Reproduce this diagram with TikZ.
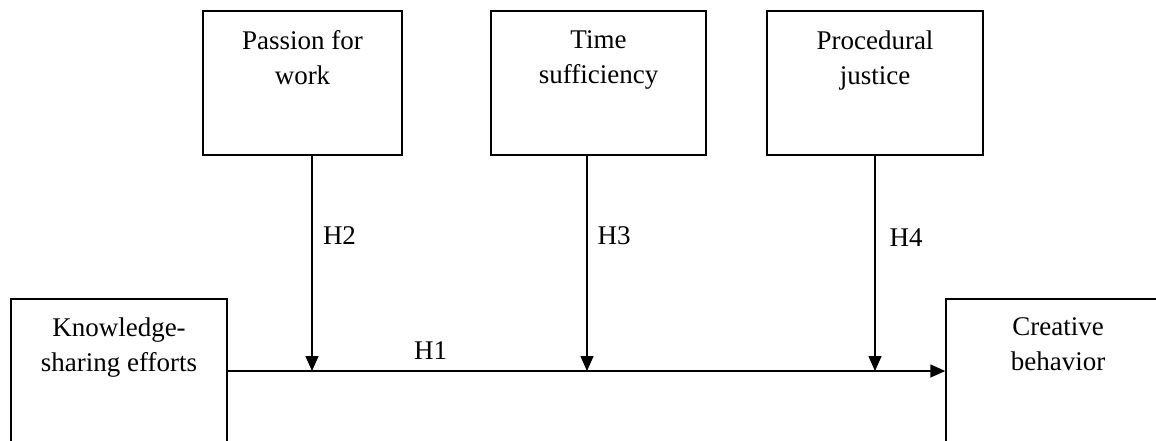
\documentclass[tikz,border=0pt]{standalone}
\usepackage{fontspec}
\setmainfont{Liberation Serif}
\usetikzlibrary{arrows.meta,calc}

\begin{document}
\begin{tikzpicture}[
    x=1pt, y=-1pt,
      construct/.style={draw, line width=1.4pt, rectangle, inner sep=0pt},
      caption/.style={anchor=north, inner sep=0pt, align=center, font=\fontsize{27}{35}\selectfont},
      hyp/.style={inner sep=0pt, font=\fontsize{27}{35}\selectfont},
      arrow/.style={-{Triangle[length=15pt, width=13pt]}, line width=1.4pt, color=black}
  ]
      \useasboundingbox (0,0) rectangle (1156,441);
      \clip (0,0) rectangle (1156,441);

      % Moderators
      \node (passion) at (302.5,83) [construct, minimum width=199pt, minimum height=144pt] {};
      \node (passiontext) at ($(passion.north)+(0,20)$) [caption] {Passion for\\work};

      \node (time) at (598.5,83) [construct, minimum width=215pt, minimum height=144pt] {};
      \node (timetext) at ($(time.north)+(0,20)$) [caption] {Time\\sufficiency};

      \node (justice) at (875,83) [construct, minimum width=216pt, minimum height=144pt] {};
      \node (justicetext) at ($(justice.north)+(0,20)$) [caption] {Procedural\\justice};

      % Knowledge sharing
      \node (knowledge) at (119,399) [construct, minimum width=216pt, minimum height=200pt] {};
      \node (knowledgetext) at ($(knowledge.north)+(0,19)$) [caption] {Knowledge-\\sharing efforts};

      % Creative behavior
      \node (creative) at (1058,399) [construct, minimum width=224pt, minimum height=200pt] {};
      \node (creativetext) at ($(creative.north)+(0,19)$) [caption] {Creative\\behavior};

      % Junctions on the main path
      \coordinate (j2) at (312,371);
      \coordinate (j3) at (587,371);
      \coordinate (j4) at (875,371);

      % Arrows
      \draw[arrow] (knowledge.east |- j2) -- (creative.west |- j2);
      \draw[arrow] (passion.south -| j2) -- (j2);
      \draw[arrow] (time.south -| j3) -- (j3);
      \draw[arrow] (justice.south -| j4) -- (j4);

      % Hypotheses
      \node (h1) at (430.5,351) [hyp] {H1};
      \node (h2) at (339.5,235.5) [hyp] {H2};
      \node (h3) at (614,235.5) [hyp] {H3};
      \node (h4) at (906,237.5) [hyp] {H4};
  \end{tikzpicture}
\end{document}
